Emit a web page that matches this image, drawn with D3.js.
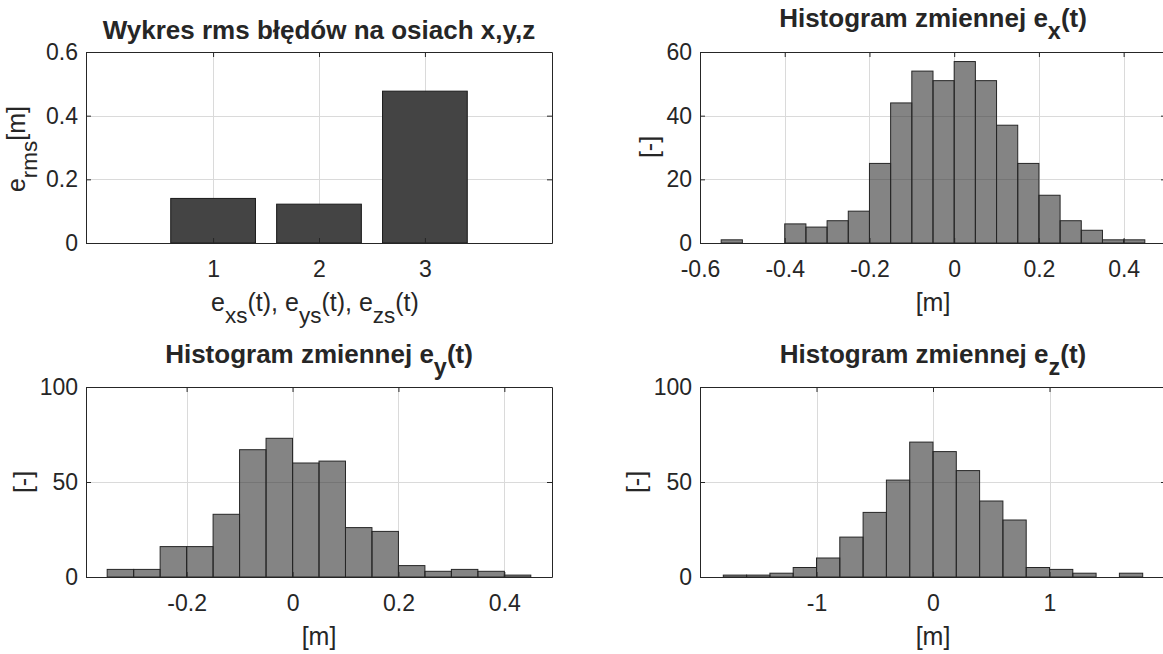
<!DOCTYPE html>
<html>
<head>
<meta charset="utf-8">
<script src="https://cdn.jsdelivr.net/npm/d3@7"></script>
<style>
  body { margin: 0; background: #fff; }
  text { font-family: "Liberation Sans", Arial, sans-serif; fill: #262626; }
</style>
</head>
<body>
<script>
// values
var rmsCategories = [1, 2, 3];
var rmsValues = [0.140, 0.122, 0.477];

var exEdges = [-0.55, -0.5, -0.45, -0.4, -0.35, -0.3, -0.25, -0.2, -0.15, -0.1, -0.05,
               0, 0.05, 0.1, 0.15, 0.2, 0.25, 0.3, 0.35, 0.4, 0.45];
var exCounts = [1, 0, 0, 6, 5, 7, 10, 25, 44, 54, 51, 57, 51, 37, 25, 15, 7, 4, 1, 1];

var eyEdges = [-0.35, -0.3, -0.25, -0.2, -0.15, -0.1, -0.05, 0, 0.05, 0.1, 0.15,
               0.2, 0.25, 0.3, 0.35, 0.4, 0.45];
var eyCounts = [4, 4, 16, 16, 33, 67, 73, 60, 61, 26, 24, 6, 3, 4, 3, 1];

var ezEdges = [-1.8, -1.6, -1.4, -1.2, -1, -0.8, -0.6, -0.4, -0.2, 0, 0.2, 0.4, 0.6,
               0.8, 1, 1.2, 1.4, 1.6, 1.8];
var ezCounts = [1, 1, 2, 5, 10, 21, 34, 51, 71, 66, 56, 40, 30, 5, 4, 2, 0, 2];

var rmsYTicks = [0, 0.2, 0.4, 0.6];
var exXTicks = [-0.6, -0.4, -0.2, 0, 0.2, 0.4];
var exYTicks = [0, 20, 40, 60];
var eyXTicks = [-0.2, 0, 0.2, 0.4];
var ezXTicks = [-1, 0, 1];
var histYTicks = [0, 50, 100];

var width = 1163, height = 654;
var ink = '#262626';

var svg = d3.select('body').append('svg')
  .attr('width', width)
  .attr('height', height);

function makePanel(box, xDomain, yDomain, xTicks, yTicks) {
  var x = d3.scaleLinear().domain(xDomain).range([box.left, box.right]);
  var y = d3.scaleLinear().domain(yDomain).range([box.bottom, box.top]);
  var g = svg.append('g');

  // grid behind everything
  var grid = g.append('g').attr('stroke', '#dadada').attr('stroke-width', 1);
  grid.selectAll('.gx').data(xTicks).enter().append('line')
    .attr('x1', function(d) { return Math.round(x(d)) + 0.5; })
    .attr('x2', function(d) { return Math.round(x(d)) + 0.5; })
    .attr('y1', box.top).attr('y2', box.bottom);
  grid.selectAll('.gy').data(yTicks).enter().append('line')
    .attr('y1', function(d) { return Math.round(y(d)) + 0.5; })
    .attr('y2', function(d) { return Math.round(y(d)) + 0.5; })
    .attr('x1', box.left).attr('x2', box.right);

  var marks = g.append('g');
  var frame = g.append('g');

  function finish() {
    var fmt = function(d) { return String(d); };
    frame.append('g')
      .attr('transform', 'translate(0,' + Math.round(box.bottom) + ')')
      .call(d3.axisBottom(x).tickValues(xTicks).tickFormat(fmt).tickSize(-5).tickSizeOuter(0).tickPadding(18));
    frame.append('g')
      .attr('transform', 'translate(0,' + Math.round(box.top) + ')')
      .call(d3.axisTop(x).tickValues(xTicks).tickFormat('').tickSize(-5).tickSizeOuter(0));
    frame.append('g')
      .attr('transform', 'translate(' + Math.round(box.left) + ',0)')
      .call(d3.axisLeft(y).tickValues(yTicks).tickFormat(fmt).tickSize(-5).tickSizeOuter(0).tickPadding(8));
    frame.append('g')
      .attr('transform', 'translate(' + Math.round(box.right) + ',0)')
      .call(d3.axisRight(y).tickValues(yTicks).tickFormat('').tickSize(-5).tickSizeOuter(0));
    frame.selectAll('.domain, .tick line').attr('stroke', ink);
    frame.selectAll('.tick text')
      .style('font-family', '"Liberation Sans", Arial, sans-serif')
      .style('font-size', '23px')
      .attr('fill', ink);
  }

  return { x: x, y: y, g: g, marks: marks, finish: finish, box: box };
}

function histogram(p, edges, counts) {
  var bins = counts.map(function(c, i) { return { x0: edges[i], x1: edges[i + 1], n: c }; });
  p.marks.selectAll('rect').data(bins).enter().append('rect')
    .attr('x', function(d) { return p.x(d.x0); })
    .attr('width', function(d) { return p.x(d.x1) - p.x(d.x0); })
    .attr('y', function(d) { return p.y(d.n); })
    .attr('height', function(d) { return p.y(0) - p.y(d.n); })
    .attr('fill', 'rgb(50,50,50)')
    .attr('fill-opacity', 0.6)
    .attr('stroke', ink)
    .attr('stroke-width', 1);
}

// text with subscripts: parts = [[text, isSub], ...]
function richText(parent, parts, size, bold) {
  var t = parent.append('text')
    .attr('text-anchor', 'middle')
    .style('font-size', size + 'px')
    .style('font-weight', bold ? 'bold' : 'normal');
  var shift = 0;
  parts.forEach(function(p) {
    var target = p[1] ? Math.round(size * 0.46) : 0;
    t.append('tspan')
      .attr('dy', target - shift)
      .style('font-size', (p[1] ? size * 0.9 : size) + 'px')
      .text(p[0]);
    shift = target;
  });
  return t;
}

function title(x, y, parts) {
  richText(svg, parts, 26, true).attr('x', x).attr('y', y);
}
function xLabel(x, y, parts) {
  richText(svg, parts, 25, false).attr('x', x).attr('y', y);
}
function yLabel(x, y, parts) {
  richText(svg, parts, 25, false)
    .attr('transform', 'translate(' + x + ',' + y + ') rotate(-90)');
}

// ---- rms bar chart
var p1 = makePanel({ left: 86, right: 552, top: 52, bottom: 243 }, [-0.2, 4.2], [0, 0.6], rmsCategories, rmsYTicks);
p1.marks.selectAll('rect').data(rmsValues).enter().append('rect')
  .attr('x', function(d, i) { return p1.x(rmsCategories[i] - 0.4); })
  .attr('width', function(d, i) { return p1.x(rmsCategories[i] + 0.4) - p1.x(rmsCategories[i] - 0.4); })
  .attr('y', function(d) { return p1.y(d); })
  .attr('height', function(d) { return p1.y(0) - p1.y(d); })
  .attr('fill', '#444444')
  .attr('stroke', '#1a1a1a');
p1.finish();
title(319, 39, [['Wykres rms błędów na osiach x,y,z', false]]);
xLabel(315, 311, [['e', false], ['xs', true], ['(t), e', false], ['ys', true], ['(t), e', false], ['zs', true], ['(t)', false]]);
yLabel(25, 149, [['e', false], ['rms', true], ['[m]', false]]);

// ---- e_x histogram
var p2 = makePanel({ left: 700, right: 1166, top: 52, bottom: 243 }, [-0.6, 0.5], [0, 60], exXTicks, exYTicks);
histogram(p2, exEdges, exCounts);
p2.finish();
title(933, 27, [['Histogram zmiennej e', false], ['x', true], ['(t)', false]]);
xLabel(933, 311, [['[m]', false]]);
yLabel(658, 147, [['[-]', false]]);

// ---- e_y histogram
var p3 = makePanel({ left: 86, right: 552, top: 387, bottom: 577 }, [-0.39, 0.49], [0, 100], eyXTicks, histYTicks);
histogram(p3, eyEdges, eyCounts);
p3.finish();
title(319, 363, [['Histogram zmiennej e', false], ['y', true], ['(t)', false]]);
xLabel(319, 645, [['[m]', false]]);
yLabel(32, 482, [['[-]', false]]);

// ---- e_z histogram
var p4 = makePanel({ left: 700, right: 1166, top: 387, bottom: 577 }, [-2, 2], [0, 100], ezXTicks, histYTicks);
histogram(p4, ezEdges, ezCounts);
p4.finish();
title(933, 363, [['Histogram zmiennej e', false], ['z', true], ['(t)', false]]);
xLabel(933, 645, [['[m]', false]]);
yLabel(645, 482, [['[-]', false]]);
</script>
</body>
</html>
